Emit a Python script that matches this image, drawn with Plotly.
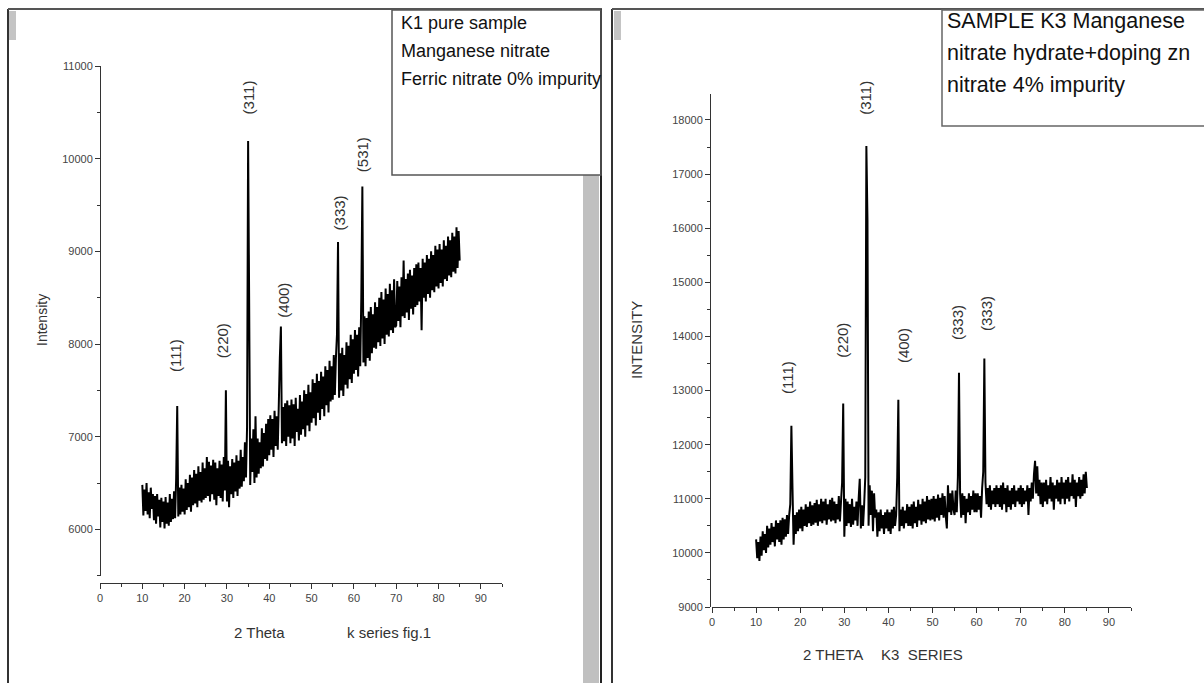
import numpy as np
import plotly.graph_objects as go

# 2-theta grid shared by both scans (10 .. 85 deg, 0.25 deg step)
two_theta = np.round(np.arange(301) * 0.25 + 10.0, 2)

# K1 pure sample - intensity, 20 points per 5 degrees
k1_intensity = [
    6480, 6150, 6430, 6200, 6500, 6160, 6400, 6120, 6450, 6220, 6380, 6100, 6360, 6060, 6380, 6140, 6320, 6020, 6340, 6080,
    6300, 6010, 6350, 6060, 6290, 6040, 6380, 6080, 6330, 6110, 6410, 6120, 6550, 7330, 6140, 6450, 6160, 6480, 6190, 6440,
    6160, 6540, 6210, 6500, 6240, 6590, 6190, 6560, 6260, 6640, 6280, 6600, 6240, 6680, 6310, 6620, 6290, 6720, 6320, 6660,
    6340, 6780, 6360, 6730, 6300, 6690, 6380, 6750, 6320, 6720, 6260, 6660, 6360, 6740, 6340, 6700, 6300, 6780, 6420, 7500,
    6300, 6740, 6240, 6680, 6380, 6760, 6340, 6720, 6410, 6800, 6360, 6740, 6440, 6860, 6460, 6780, 6520, 6940, 6560, 7100,
    10190, 8450, 6480, 6980, 6620, 7080, 6500, 7220, 6560, 6980, 6600, 6940, 6660, 7090, 6680, 7040, 6760, 7140, 6740, 7190,
    6800, 7230, 6860, 7190, 6780, 7280, 6900, 7220, 6860, 7340, 7850, 8190, 6930, 7320, 6950, 7360, 6900, 7390, 7000, 7340,
    6930, 7400, 6980, 7350, 6900, 7420, 7050, 7300, 6960, 7450, 7020, 7380, 7080, 7500, 7000, 7460, 7120, 7560, 7060, 7480,
    7150, 7620, 7200, 7580, 7120, 7680, 7260, 7600, 7180, 7700, 7300, 7650, 7220, 7760, 7340, 7720, 7260, 7820, 7380, 7760,
    7400, 7880, 7450, 7850, 8100, 9100, 7420, 7900, 7500, 7960, 7440, 7880, 7560, 8020, 7520, 7980, 7620, 8100, 7580, 8050,
    7680, 8150, 7720, 8100, 7650, 8180, 7760, 8500, 9700, 7800, 8300, 7760, 8280, 7850, 8350, 7820, 8400, 7900, 8320, 7960,
    8450, 7950, 8400, 8020, 8500, 7980, 8560, 8060, 8480, 8000, 8600, 8100, 8540, 8080, 8650, 8150, 8580, 8120, 8700, 8180,
    8200, 8680, 8250, 8620, 8180, 8720, 8300, 8900, 8280, 8700, 8340, 8760, 8260, 8800, 8380, 8740, 8320, 8820, 8400, 8860,
    8420, 8880, 8460, 8820, 8150, 8920, 8500, 8880, 8460, 8960, 8540, 8920, 8500, 9000, 8580, 8960, 8560, 9060, 8620, 9020,
    8600, 9080, 8660, 9020, 8620, 9120, 8700, 9060, 8680, 9160, 8740, 9120, 8720, 9200, 8780, 9160, 8760, 9260, 8820, 9220,
    8900,
]

# K3 Zn doped 4% - intensity
k3_intensity = [
    10250, 9900, 10200, 9850, 10300, 9950, 10400, 10050, 10350, 10000, 10500, 10100, 10450, 10150, 10550, 10200, 10480, 10120, 10600, 10250,
    10550, 10200, 10600, 10150, 10650, 10250, 10620, 10300, 10700, 10350, 10700, 10900, 12350, 11200, 10150, 10700, 10350, 10750, 10400, 10800,
    10450, 10850, 10400, 10800, 10500, 10900, 10480, 10850, 10550, 10950, 10500, 10880, 10520, 10920, 10560, 10980, 10500, 10900, 10580, 11000,
    10550, 10950, 10600, 11000, 10520, 10900, 10620, 10980, 10580, 11020, 10600, 10950, 10550, 10900, 10620, 11050, 10580, 10950, 11300, 12760,
    10300, 11000, 10500, 10950, 10550, 10900, 10480, 11000, 10520, 10850, 10600, 10950, 10500, 11000, 11370, 10450, 10880, 10500, 10900, 11400,
    17520, 16150, 10500, 11250, 10700, 11150, 10400, 11100, 10650, 10800, 10300, 10750, 10400, 10800, 10450, 10700, 10350, 10750, 10450, 10800,
    10400, 10750, 10350, 10800, 10450, 10850, 10500, 10700, 11400, 12830, 10400, 10800, 10500, 10850, 10450, 10780, 10550, 10900, 10500, 10850,
    10500, 10900, 10450, 10950, 10550, 10850, 10480, 10980, 10600, 10900, 10520, 11000, 10580, 10950, 10550, 11050, 10620, 10980, 10600, 11000,
    10620, 11050, 10580, 11000, 10650, 11080, 10600, 11020, 10700, 11100, 10650, 11050, 10680, 10450, 11250, 10750, 11100, 10700, 11150, 10800,
    10700, 11150, 10750, 11400, 13330, 11100, 10650, 11100, 10700, 11050, 10550, 11000, 10750, 11100, 10700, 11050, 10800, 11150, 10750, 11100,
    10750, 11100, 10800, 11050, 10650, 11200, 11500, 13590, 11300, 10900, 11200, 10850, 11250, 10800, 11150, 10900, 11200, 10850, 11250, 10900,
    11200, 10850, 11250, 10800, 11300, 10900, 11200, 10750, 11250, 10850, 11150, 10800, 11200, 10900, 11250, 10850, 11150, 10950, 11200, 10900,
    11250, 10850, 11200, 10900, 11150, 10950, 11250, 10700, 11200, 10950, 11300, 11000, 11450, 11700, 11100, 11600, 11050, 11350, 10900, 11300,
    10850, 11300, 10950, 11350, 10900, 11250, 11000, 11400, 10950, 11300, 10800, 11250, 11000, 11350, 10950, 11300, 10900, 11400, 11000, 11300,
    10900, 11350, 11000, 11400, 10950, 11300, 11050, 11450, 11000, 11350, 10850, 11300, 11050, 11400, 11000, 11350, 11050, 11450, 11100, 11500,
    11200,
]

# peak indexing labels
k1_labels = ['(111)', '(220)', '(311)', '(400)', '(333)', '(531)']
k1_label_x = [17.7, 28.8, 35.2, 43.3, 56.5, 62.2]
k1_label_y = [7880, 8040, 10660, 8470, 9410, 10040]

k3_labels = ['(111)', '(220)', '(311)', '(400)', '(333)', '(333)']
k3_label_x = [17.0, 29.7, 34.9, 43.3, 55.8, 62.1]
k3_label_y = [13250, 13940, 18410, 13840, 14250, 14430]

x_ticks = [0, 10, 20, 30, 40, 50, 60, 70, 80, 90]

W, H = 1204, 683
def px(x):
    return x / W
def py(y):
    return 1 - y / H

SANS = 'Liberation Sans, Arial, sans-serif'
tick_font = dict(family=SANS, size=11, color='#444')

fig = go.Figure()
fig.add_trace(go.Scatter(x=two_theta, y=k1_intensity, mode='lines', xaxis='x', yaxis='y',
                         line=dict(color='black', width=2, simplify=False), hoverinfo='x+y'))
fig.add_trace(go.Scatter(x=two_theta, y=k3_intensity, mode='lines', xaxis='x2', yaxis='y2',
                         line=dict(color='black', width=2, simplify=False), hoverinfo='x+y'))

axis_common = dict(showgrid=False, zeroline=False, showline=True, linecolor='#333', linewidth=1,
                   ticks='outside', ticklen=5, tickcolor='#333', tickfont=tick_font, tickformat='d',
                   automargin=False)

fig.update_layout(
    width=W, height=H, margin=dict(l=0, r=0, t=0, b=0, pad=0, autoexpand=False),
    paper_bgcolor='white', plot_bgcolor='white', showlegend=False,
    xaxis=dict(domain=[px(100), px(502)], range=[0, 95], anchor='free', position=py(582.5),
               tickvals=x_ticks, minor=dict(dtick=5, ticklen=3, tickcolor='#333'), **axis_common),
    yaxis=dict(domain=[py(575.7), py(66)], range=[5500, 11000], anchor='free', position=px(100),
               dtick=1000, tick0=6000, minor=dict(dtick=500, ticklen=3, tickcolor='#333'), **axis_common),
    xaxis2=dict(domain=[px(712), px(1131)], range=[0, 95], anchor='free', position=py(607),
                tickvals=x_ticks, minor=dict(dtick=5, ticklen=3, tickcolor='#333'), **axis_common),
    yaxis2=dict(domain=[py(607), py(94)], range=[9000, 18480], anchor='free', position=px(710),
                dtick=1000, tick0=9000, minor=dict(dtick=500, ticklen=3, tickcolor='#333'), **axis_common),
)

# page frames and gray scroll bars of the screenshot
P = dict(xref='paper', yref='paper')
shapes = [
    dict(type='line', x0=px(8), x1=px(8), y0=py(9), y1=0, line=dict(color='#333', width=2), **P),
    dict(type='line', x0=px(8), x1=px(602), y0=py(9), y1=py(9), line=dict(color='#555', width=2), **P),
    dict(type='rect', x0=px(583), x1=px(599), y0=py(175), y1=0, fillcolor='#c0c0c0', line=dict(width=0), **P),
    dict(type='line', x0=px(601), x1=px(601), y0=py(9), y1=0, line=dict(color='#222', width=2), **P),
    dict(type='rect', x0=px(9), x1=px(16), y0=py(40), y1=py(11), fillcolor='#c4c4c4', line=dict(width=0), **P),
    dict(type='rect', x0=px(392), x1=px(601), y0=py(175), y1=py(10), line=dict(color='#555', width=1.5), **P),
    dict(type='line', x0=px(612), x1=px(612), y0=py(9), y1=0, line=dict(color='#333', width=2), **P),
    dict(type='line', x0=px(612), x1=1, y0=py(9), y1=py(9), line=dict(color='#555', width=2), **P),
    dict(type='rect', x0=px(614), x1=px(621), y0=py(40), y1=py(11), fillcolor='#c4c4c4', line=dict(width=0), **P),
    dict(type='rect', x0=px(942), x1=px(1206), y0=py(126), y1=py(10), line=dict(color='#666', width=1.5), **P),
]
fig.update_layout(shapes=shapes)

ann = []
# legend box texts
for i, t in enumerate(['K1 pure sample', 'Manganese nitrate', 'Ferric nitrate 0% impurity']):
    ann.append(dict(text=t, x=px(399), y=py(23 + 28 * i), xanchor='left', yanchor='middle',
                    showarrow=False, font=dict(family=SANS, size=18, color='#111'), **P))
for i, t in enumerate(['SAMPLE K3 Manganese', 'nitrate hydrate+doping zn', 'nitrate 4% impurity']):
    ann.append(dict(text=t, x=px(945), y=py(21 + 32 * i), xanchor='left', yanchor='middle',
                    showarrow=False, font=dict(family=SANS, size=21.5, color='#111'), **P))

# axis titles
ann.append(dict(text='Intensity', x=px(32), y=py(320), textangle=-90, showarrow=False,
                font=dict(family=SANS, size=14, color='#333'), **P))
ann.append(dict(text='INTENSITY', x=px(636), y=py(340), textangle=-90, showarrow=False,
                font=dict(family=SANS, size=15, color='#333'), **P))
ann.append(dict(text='2 Theta', x=px(232), y=py(643), showarrow=False,
                font=dict(family=SANS, size=15, color='#333'), **P))
ann.append(dict(text='k series fig.1', x=px(345), y=py(643), showarrow=False,
                font=dict(family=SANS, size=15, color='#333'), **P))
ann.append(dict(text='2 THETA', x=px(865), y=py(665), showarrow=False,
                font=dict(family=SANS, size=15, color='#333'), **P))
ann.append(dict(text='K3  SERIES', x=px(965), y=py(665), showarrow=False,
                font=dict(family=SANS, size=15, color='#333'), **P))

# peak labels
for t, lx, ly in zip(k1_labels, k1_label_x, k1_label_y):
    ann.append(dict(text=t, xref='x', yref='y', x=lx, y=ly, textangle=-90, showarrow=False,
                    font=dict(family=SANS, size=15, color='#333')))
for t, lx, ly in zip(k3_labels, k3_label_x, k3_label_y):
    ann.append(dict(text=t, xref='x2', yref='y2', x=lx, y=ly, textangle=-90, showarrow=False,
                    font=dict(family=SANS, size=15, color='#333')))

fig.update_layout(annotations=ann)
fig.write_html("out.html", config={'displayModeBar': False},
               post_script="document.body.style.margin='0';")
